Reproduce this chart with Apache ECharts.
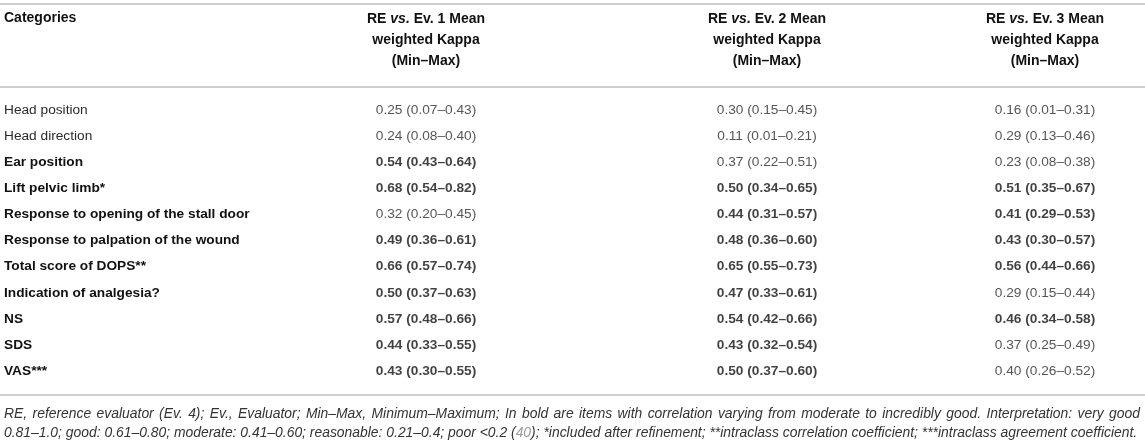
<!DOCTYPE html>
<html>
<head>
<meta charset="utf-8">
<script src="https://cdn.jsdelivr.net/npm/echarts@6/dist/echarts.min.js"></script>
<style>
  html, body { margin: 0; padding: 0; background: #fff; }
  #chart { width: 1145px; height: 444px; }
</style>
</head>
<body>
<div id="chart"></div>
<script>
// table rows
const categories = [
  'Head position',
  'Head direction',
  'Ear position',
  'Lift pelvic limb*',
  'Response to opening of the stall door',
  'Response to palpation of the wound',
  'Total score of DOPS**',
  'Indication of analgesia?',
  'NS',
  'SDS',
  'VAS***'
]

// RE vs. Ev. 1
const ev1Mean = [0.25, 0.24, 0.54, 0.68, 0.32, 0.49, 0.66, 0.50, 0.57, 0.44, 0.43]
const ev1Min  = [0.07, 0.08, 0.43, 0.54, 0.20, 0.36, 0.57, 0.37, 0.48, 0.33, 0.30]
const ev1Max  = [0.43, 0.40, 0.64, 0.82, 0.45, 0.61, 0.74, 0.63, 0.66, 0.55, 0.55]
// RE vs. Ev. 2
const ev2Mean = [0.30, 0.11, 0.37, 0.50, 0.44, 0.48, 0.65, 0.47, 0.54, 0.43, 0.50]
const ev2Min  = [0.15, 0.01, 0.22, 0.34, 0.31, 0.36, 0.55, 0.33, 0.42, 0.32, 0.37]
const ev2Max  = [0.45, 0.21, 0.51, 0.65, 0.57, 0.60, 0.73, 0.61, 0.66, 0.54, 0.60]
// RE vs. Ev. 3
const ev3Mean = [0.16, 0.29, 0.23, 0.51, 0.41, 0.43, 0.56, 0.29, 0.46, 0.37, 0.40]
const ev3Min  = [0.01, 0.13, 0.08, 0.35, 0.29, 0.30, 0.44, 0.15, 0.34, 0.25, 0.26]
const ev3Max  = [0.31, 0.46, 0.38, 0.67, 0.53, 0.57, 0.66, 0.44, 0.58, 0.49, 0.52]

const colHeaders = [
  'RE {i|vs.} Ev. 1 Mean\nweighted Kappa\n(Min–Max)',
  'RE {i|vs.} Ev. 2 Mean\nweighted Kappa\n(Min–Max)',
  'RE {i|vs.} Ev. 3 Mean\nweighted Kappa\n(Min–Max)'
]
const footLine1 = 'RE, reference evaluator (Ev. 4); Ev., Evaluator; Min–Max, Minimum–Maximum; In bold are items with correlation varying from moderate to incredibly good. Interpretation: very good'
const footLine2a = '0.81–1.0; good: 0.61–0.80; moderate: 0.41–0.60; reasonable: 0.21–0.4; poor <0.2 ('
const footRef = '40'
const footLine2b = '); *included after refinement; **intraclass correlation coefficient; ***intraclass agreement coefficient.'

// moderate or better (>= 0.41) is set in bold
const MODERATE = 0.41

const FONT = '"Liberation Sans", Arial, sans-serif'
const FS = 13.7
const LEFT = 4, RIGHT = 1140
const TOP = 97, BAND = 26.1
const colCenters = [426, 767, 1045]
const COLW = 200

const means = [ev1Mean, ev2Mean, ev3Mean]
const mins = [ev1Min, ev2Min, ev3Min]
const maxs = [ev1Max, ev2Max, ev3Max]

const fmt = v => v.toFixed(2)
const rowBold = categories.map((c, i) => means.some(m => m[i] >= MODERATE))

const chart = echarts.init(document.getElementById('chart'), null, { renderer: 'canvas' })

// first grid only carries the row names as y-axis labels
const grids = [{ left: LEFT + 300, top: TOP, width: 10, height: BAND * categories.length }]
const xAxes = [{ gridIndex: 0, type: 'category', data: [''], show: false }]
const yAxes = [{
  gridIndex: 0, type: 'category', inverse: true, data: categories,
  axisLine: { show: false }, axisTick: { show: false }, splitLine: { show: false },
  axisLabel: {
    align: 'left', margin: 300, fontFamily: FONT, fontSize: FS, color: '#2b2b2b',
    formatter: (v, i) => rowBold[i] ? '{b|' + v + '}' : v,
    rich: { b: { fontFamily: FONT, fontSize: FS, fontWeight: 'bold', color: '#111' } }
  }
}]
const series = []

colCenters.forEach((cx, k) => {
  const g = k + 1
  grids.push({ left: cx - COLW / 2, top: TOP, width: COLW, height: BAND * categories.length })
  xAxes.push({
    gridIndex: g, type: 'category', position: 'top', data: [colHeaders[k]],
    axisLine: { show: false }, axisTick: { show: false },
    axisLabel: {
      margin: 25, interval: 0, fontFamily: FONT, fontSize: 14, fontWeight: 'bold',
      color: '#111', lineHeight: 21, align: 'center',
      rich: { i: { fontFamily: FONT, fontSize: 14, fontWeight: 'bold', fontStyle: 'italic', color: '#111' } }
    }
  })
  yAxes.push({ gridIndex: g, type: 'category', inverse: true, data: categories, show: false })
  series.push({
    type: 'scatter', xAxisIndex: g, yAxisIndex: g, symbolSize: 0, silent: true,
    data: means[k].map((m, i) => ({
      value: [0, i],
      label: {
        show: true, position: 'inside',
        formatter: fmt(m) + ' (' + fmt(mins[k][i]) + '–' + fmt(maxs[k][i]) + ')',
        fontFamily: FONT, fontSize: FS,
        fontWeight: m >= MODERATE ? 'bold' : 'normal',
        color: m >= MODERATE ? '#111' : '#2b2b2b'
      }
    }))
  })
})

const rule = y => ({
  type: 'line', shape: { x1: 0, y1: y, x2: 1145, y2: y },
  style: { stroke: '#bdbdbd', lineWidth: 1.5 }
})

// footnote: first line is justified across the page like the source
const FOOT_FS = 13.9
const footFont = 'italic ' + FOOT_FS + 'px ' + FONT
const ctx = document.createElement('canvas').getContext('2d')
ctx.font = footFont
const words = footLine1.split(' ')
const wordW = words.map(w => ctx.measureText(w).width)
const gap = (RIGHT - LEFT - wordW.reduce((a, b) => a + b, 0)) / (words.length - 1)
const footWords = []
let x = LEFT
words.forEach((w, i) => {
  footWords.push({ type: 'text', x: x, y: 414, style: { text: w, font: footFont, fill: '#333', verticalAlign: 'middle' } })
  x += wordW[i] + gap
})

chart.setOption({
  animation: false,
  grid: grids,
  xAxis: xAxes,
  yAxis: yAxes,
  series: series,
  graphic: [
    rule(4), rule(87), rule(395),
    { type: 'text', x: LEFT, y: 18, style: { text: 'Categories', font: 'bold 14px ' + FONT, fill: '#111', verticalAlign: 'middle' } },
    ...footWords,
    {
      type: 'text', x: LEFT, y: 433,
      style: {
        text: footLine2a + '{r|' + footRef + '}' + footLine2b,
        font: footFont, fill: '#333', verticalAlign: 'middle',
        rich: { r: { fontFamily: FONT, fontSize: FOOT_FS, fontStyle: 'italic', fill: '#999' } }
      }
    }
  ]
})
</script>
</body>
</html>
